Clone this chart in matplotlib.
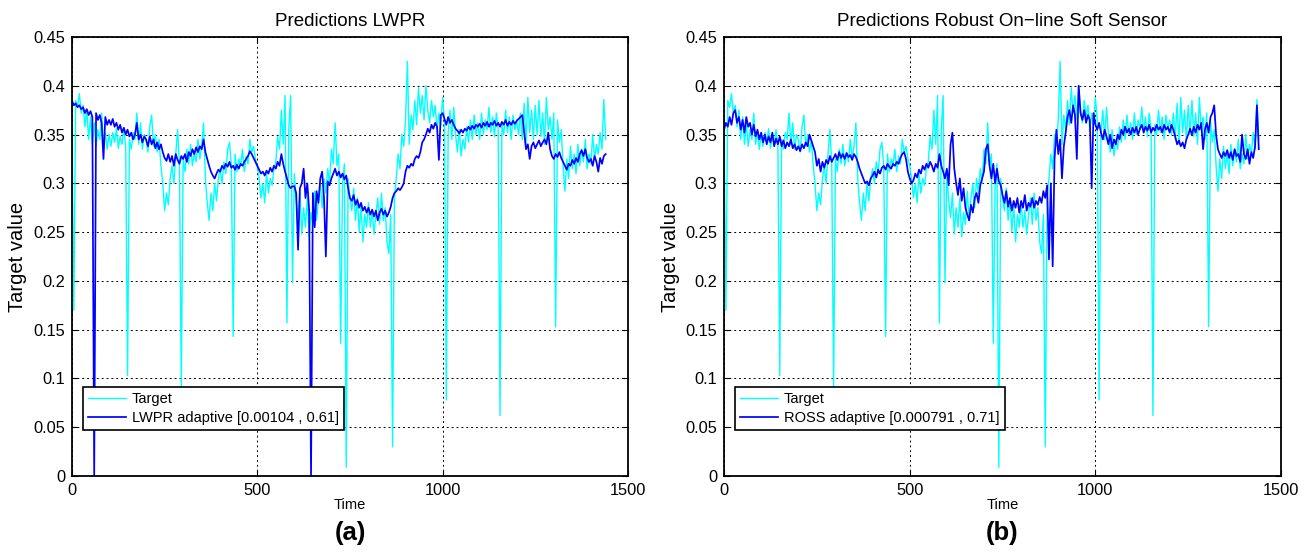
import numpy as np
from matplotlib import pyplot as plt

plt.rcParams['font.family'] = ['Liberation Sans', 'DejaVu Sans']

# sample times (every 5 steps) and values, in 1/1000
time = np.arange(0, 1441, 5)

target = [
    360, 170, 385, 378, 392, 372, 380, 358, 375, 345, 368, 340, 362, 338, 355, 345, 372, 340, 352, 335,
    350, 338, 352, 342, 356, 336, 348, 340, 355, 338, 103, 345, 335, 352, 345, 372, 340, 362, 335, 350,
    345, 332, 358, 370, 338, 350, 332, 345, 318, 300, 272, 290, 278, 305, 318, 300, 330, 355, 320, 90,
    325, 312, 335, 320, 340, 318, 332, 322, 345, 325, 338, 362, 305, 280, 262, 290, 272, 300, 282, 305,
    315, 300, 322, 310, 335, 342, 318, 143, 330, 312, 325, 318, 335, 312, 328, 320, 345, 332, 338, 325,
    318, 305, 285, 300, 280, 310, 290, 305, 298, 315, 322, 348, 335, 375, 340, 390, 157, 355, 390, 198,
    310, 282, 265, 290, 248, 275, 255, 285, 245, 270, 258, 292, 262, 285, 300, 275, 305, 290, 315, 300,
    335, 320, 362, 318, 330, 136, 300, 320, 9, 305, 285, 272, 295, 262, 285, 250, 278, 240, 268, 255,
    280, 255, 272, 248, 268, 285, 258, 290, 262, 275, 240, 228, 268, 30, 285, 305, 330, 315, 350, 338,
    365, 425, 340, 370, 355, 385, 360, 398, 372, 390, 365, 400, 375, 362, 385, 368, 380, 355, 372, 360,
    388, 365, 78, 352, 375, 345, 378, 350, 332, 355, 328, 345, 335, 358, 342, 365, 345, 370, 350, 362,
    345, 372, 350, 365, 355, 378, 352, 368, 348, 372, 355, 62, 360, 350, 375, 352, 368, 345, 370, 355,
    365, 350, 372, 345, 382, 340, 388, 352, 375, 345, 380, 350, 385, 348, 372, 340, 388, 355, 368, 345,
    372, 153, 365, 342, 355, 318, 292, 325, 305, 338, 315, 330, 310, 340, 318, 335, 322, 345, 315, 330,
    320, 350, 325, 340, 330, 352, 335, 386, 345,
]

lwpr = [
    385, 380, 382, 378, 380, 376, 378, 372, 376, 370, 374, 368, 0, 372, 365, 370, 362, 325, 368, 360,
    365, 360, 366, 358, 362, 355, 360, 352, 357, 350, 355, 348, 352, 345, 350, 362, 345, 350, 342, 348,
    345, 338, 348, 340, 345, 336, 342, 335, 340, 332, 326, 323, 330, 322, 328, 318, 330, 324, 320, 328,
    325, 330, 322, 332, 328, 335, 330, 337, 332, 338, 335, 345, 332, 325, 318, 312, 308, 305, 310, 314,
    312, 318, 315, 320, 317, 322, 316, 318, 314, 319, 315, 320, 318, 322, 325, 328, 333, 330, 326, 322,
    318, 314, 310, 312, 308, 313, 310, 316, 312, 318, 315, 322, 318, 330, 320, 312, 305, 298, 295, 297,
    297, 290, 232, 295, 300, 315, 285, 300, 272, 0, 290, 255, 292, 280, 305, 312, 285, 225, 302, 298,
    305, 310, 315, 308, 312, 306, 310, 304, 308, 295, 285, 282, 288, 278, 283, 275, 280, 272, 276, 270,
    275, 268, 273, 266, 272, 262, 270, 274, 268, 272, 266, 270, 276, 285, 290, 292, 295, 293, 296, 300,
    312, 318, 316, 320, 318, 325, 328, 326, 332, 342, 345, 350, 356, 352, 360, 356, 362, 358, 324, 370,
    372, 366, 360, 368, 362, 365, 360, 356, 354, 351, 355, 352, 356, 354, 358, 355, 359, 356, 360, 358,
    361, 357, 362, 359, 363, 358, 362, 360, 364, 359, 362, 358, 363, 360, 365, 359, 363, 360, 364, 361,
    364, 366, 368, 370, 352, 335, 340, 325, 338, 342, 336, 340, 344, 338, 342, 345, 340, 352, 335, 328,
    325, 330, 327, 332, 326, 322, 318, 314, 320, 318, 324, 320, 326, 322, 330, 334, 328, 335, 326, 322,
    325, 318, 328, 322, 312, 326, 320, 328, 330,
]

ross = [
    355, 362, 358, 368, 360, 372, 375, 362, 368, 355, 365, 352, 368, 358, 362, 350, 360, 348, 355, 345,
    352, 342, 350, 340, 348, 342, 352, 338, 346, 340, 348, 338, 344, 336, 342, 338, 345, 336, 340, 334,
    338, 333, 340, 336, 342, 338, 350, 344, 338, 332, 318, 325, 312, 322, 316, 324, 320, 328, 322, 326,
    330, 324, 332, 326, 330, 325, 331, 327, 329, 324, 330, 327, 322, 315, 310, 305, 300, 302, 298, 305,
    308, 312, 306, 314, 310, 316, 318, 314, 320, 317, 315, 320, 318, 322, 320, 326, 330, 332, 325, 312,
    305, 300, 303, 310, 306, 314, 310, 318, 314, 320, 316, 322, 318, 312, 320, 316, 330, 318, 312, 305,
    315, 298, 340, 352, 315, 300, 288, 305, 282, 295, 275, 268, 262, 278, 270, 285, 290, 280, 298, 305,
    312, 335, 340, 318, 305, 320, 300, 315, 302, 298, 288, 280, 292, 276, 285, 272, 282, 275, 285, 270,
    282, 275, 288, 272, 280, 276, 285, 275, 282, 278, 286, 280, 292, 285, 298, 222, 300, 215, 325, 355,
    330, 345, 305, 338, 352, 368, 375, 362, 380, 370, 325, 400, 372, 365, 375, 362, 370, 365, 295, 372,
    360, 355, 362, 352, 345, 355, 348, 340, 350, 336, 345, 340, 350, 345, 355, 350, 358, 352, 356, 350,
    357, 352, 358, 350, 356, 360, 352, 358, 354, 360, 352, 357, 354, 360, 355, 358, 352, 360, 355, 358,
    352, 360, 355, 348, 340, 344, 338, 342, 336, 345, 350, 356, 350, 358, 352, 360, 355, 362, 335, 355,
    362, 352, 368, 372, 380, 350, 335, 330, 326, 332, 328, 334, 326, 332, 324, 335, 328, 330, 322, 350,
    330, 325, 335, 320, 332, 326, 338, 380, 335,
]

titles = ['Predictions LWPR', 'Predictions Robust On\u2212line Soft Sensor']
model_labels = ['LWPR adaptive [0.00104 , 0.61]', 'ROSS adaptive [0.000791 , 0.71]']
panel_tags = ['(a)', '(b)']
y_ticks = [0, 0.05, 0.1, 0.15, 0.2, 0.25, 0.3, 0.35, 0.4, 0.45]
x_ticks = [0, 500, 1000, 1500]


def draw_panel(ax, pred, title, label, tag):
    ax.plot(time, np.array(target) / 1000, color='#00ffff', lw=1.0, label='Target')
    ax.plot(time, np.array(pred) / 1000, color='#0000ff', lw=1.25, label=label)

    ax.set_xlim(0, 1500)
    ax.set_ylim(0, 0.45)
    ax.set_xticks(x_ticks)
    ax.set_yticks(y_ticks)
    ax.set_yticklabels([f'{v:g}' for v in y_ticks])
    ax.tick_params(direction='in', length=4, labelsize=11.8, pad=5, top=True, right=True)

    # matlab style dotted grid
    ax.grid(True, color='black', linestyle=(0, (2, 3)), linewidth=0.7)
    for s in ax.spines.values():
        s.set_linewidth(1.3)

    ax.set_title(title, fontsize=13.5, pad=8)
    ax.set_xlabel('Time', fontsize=10.5, labelpad=0)
    ax.set_ylabel('Target value', fontsize=14.5, labelpad=4)

    leg = ax.legend(loc='lower left', bbox_to_anchor=(0.02, 0.105), borderaxespad=0,
                    fancybox=False, framealpha=1, edgecolor='black', fontsize=10.5,
                    handlelength=2.6, handletextpad=0.4, borderpad=0.35, labelspacing=0.35)
    leg.get_frame().set_linewidth(1.2)

    ax.text(0.5, -0.13, tag, transform=ax.transAxes, ha='center', va='center',
            fontsize=18.5, fontweight='bold')


fig = plt.figure(figsize=(13.06, 5.53), dpi=100)
ax1 = fig.add_axes([0.0551, 0.1392, 0.4257, 0.7939])
ax2 = fig.add_axes([0.5544, 0.1392, 0.4265, 0.7939])

draw_panel(ax1, lwpr, titles[0], model_labels[0], panel_tags[0])
draw_panel(ax2, ross, titles[1], model_labels[1], panel_tags[1])

fig.savefig('out.png', dpi=100)
